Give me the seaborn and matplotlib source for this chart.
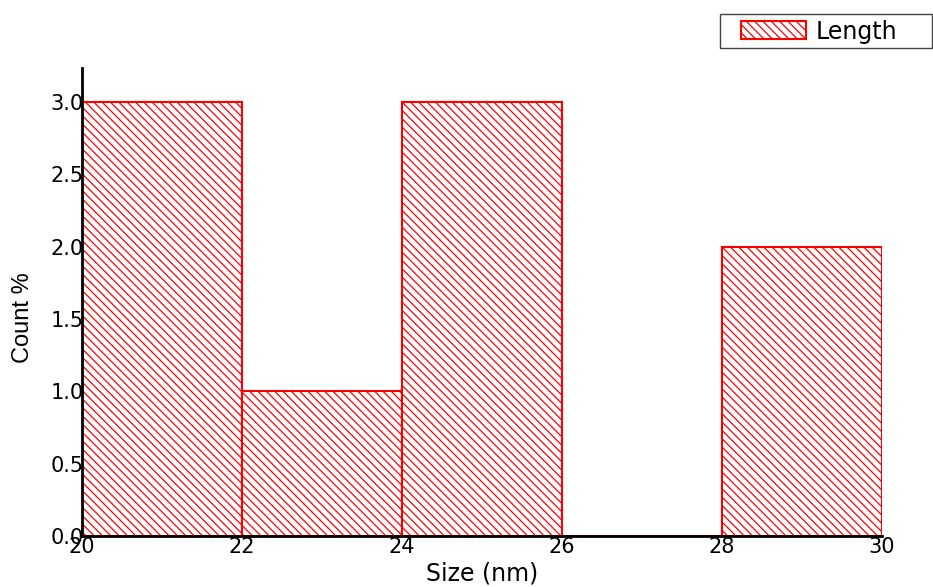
import matplotlib
matplotlib.use("Agg")
import matplotlib.pyplot as plt
import seaborn as sns
import numpy as np
import pandas as pd
from matplotlib.patches import Rectangle

bin_edges = [20, 22, 24, 26, 28, 30]
bin_centers = [21, 23, 25, 27, 29]
counts = [3, 1, 3, 0, 2]
series_name = "Length"
x_ticks = [20, 22, 24, 26, 28, 30]
y_ticks = [0.0, 0.5, 1.0, 1.5, 2.0, 2.5, 3.0]

sns.set_style("white")
plt.rcParams['font.family'] = ['DejaVu Sans']
plt.rcParams['hatch.linewidth'] = 0.9
plt.rcParams['hatch.color'] = 'red'

df = pd.DataFrame({"size": bin_centers, "count": counts})

fig = plt.figure(figsize=(9.33, 5.87), dpi=100)
ax = fig.add_axes([82/933, 1-536/587, 800/933, (536-68)/587])

sns.histplot(data=df, x="size", weights="count", bins=bin_edges, ax=ax,
             color="white", edgecolor="red", linewidth=1.5, alpha=1.0,
             label=series_name)
for p in ax.patches:
    p.set_hatch("\\\\\\\\")
    p.set_edgecolor("red")
    p.set_facecolor("white")

ax.set_xlim(20, 30)
ax.set_ylim(0, 3.235)
ax.set_xticks(x_ticks)
ax.set_xticklabels([str(v) for v in x_ticks])
ax.set_yticks(y_ticks)
ax.set_yticklabels([f"{v:.1f}" for v in y_ticks])
ax.tick_params(axis='both', length=0, labelsize=15, colors='black')
ax.tick_params(axis='x', pad=1)
ax.tick_params(axis='y', pad=-1)

for s in ['top', 'right']:
    ax.spines[s].set_visible(False)
for s in ['left', 'bottom']:
    ax.spines[s].set_color('black')
    ax.spines[s].set_linewidth(2)
    ax.spines[s].set_zorder(5)

ax.set_xlabel("Size (nm)", fontsize=17, color='black')
ax.xaxis.set_label_coords(0.5, -(573-536)/468)
ax.xaxis.label.set_va('center')
ax.set_ylabel("Count %", fontsize=17, family='Liberation Sans', color='black')
ax.yaxis.set_label_coords(-(82-23)/800, (536-318)/468)
ax.yaxis.label.set_va('center')

# legend frame
W, H = 933, 587
fig.patches.append(Rectangle((720/W, 1-48/H), 212/W, 34/H, transform=fig.transFigure,
                             facecolor='white', edgecolor='#444444', linewidth=1.0,
                             zorder=0))
leg = fig.legend(handles=[ax.patches[0]], labels=[series_name],
                 loc='center left', bbox_to_anchor=(741/W, 1-31.5/H),
                 frameon=False, fontsize=17,
                 handlelength=2.75, handleheight=0.8, borderpad=0,
                 handletextpad=0.42, borderaxespad=0, labelcolor='black')

fig.savefig("out.png", dpi=100)
